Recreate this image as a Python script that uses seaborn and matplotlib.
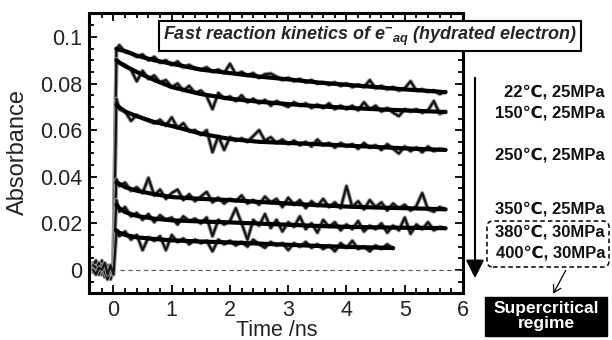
import matplotlib
matplotlib.use('Agg')
import matplotlib.pyplot as plt
import matplotlib.transforms as mtransforms
from matplotlib.patches import FancyBboxPatch, FancyArrowPatch, Rectangle
from matplotlib.ticker import MultipleLocator
import seaborn as sns

# time axes (ns)
t_pre = [-0.35, -0.30, -0.25, -0.20, -0.15, -0.10, -0.05, 0.00]
t_post = [0.05, 0.1, 0.2, 0.3, 0.4, 0.5, 0.6, 0.7, 0.8, 0.9,
          1.0, 1.1, 1.2, 1.3, 1.4, 1.5, 1.6, 1.7, 1.8, 1.9,
          2.0, 2.1, 2.2, 2.3, 2.4, 2.5, 2.6, 2.7, 2.8, 2.9,
          3.0, 3.1, 3.2, 3.3, 3.4, 3.5, 3.6, 3.7, 3.8, 3.9,
          4.0, 4.1, 4.2, 4.3, 4.4, 4.5, 4.6, 4.7, 4.8, 4.9,
          5.0, 5.1, 5.2, 5.3, 5.4, 5.5, 5.6, 5.7]
t_fit = [0.05, 0.1, 0.2, 0.4, 0.7, 1.0, 1.5, 2.0, 2.5, 3.0, 3.5, 4.0, 4.5, 5.0, 5.5, 5.7]
t_fit_400 = [0.05, 0.1, 0.2, 0.4, 0.7, 1.0, 1.5, 2.0, 2.5, 3.0, 3.5, 4.0, 4.5, 4.8]

# pre-trigger baselines
pre_22 = [0.003, 0.002, -0.001, 0.004, 0.000, -0.003, 0.001, 0.002]
pre_150 = [0.001, -0.001, 0.003, -0.002, 0.003, 0.000, -0.004, 0.001]
pre_250 = [0.002, 0.004, 0.000, -0.002, 0.002, -0.004, 0.002, 0.000]
pre_350 = [-0.001, 0.000, 0.003, 0.001, -0.003, 0.002, -0.002, 0.003]
pre_380 = [0.002, 0.001, -0.002, 0.002, -0.001, -0.004, 0.000, 0.002]
pre_400 = [0.000, -0.002, 0.001, 0.000, 0.003, -0.002, 0.002, -0.002]

# measured absorbance traces
abs_22 = [0.0945, 0.0965, 0.0935, 0.0930, 0.0915, 0.0925, 0.0900, 0.0915, 0.0890, 0.0900,
          0.0880, 0.0895, 0.0870, 0.0880, 0.0865, 0.0860, 0.0870, 0.0850, 0.0860, 0.0845,
          0.0885, 0.0840, 0.0850, 0.0835, 0.0845, 0.0825, 0.0840, 0.0843, 0.0830, 0.0815,
          0.0825, 0.0810, 0.0820, 0.0805, 0.0815, 0.0800, 0.0805, 0.0795, 0.0805, 0.0790,
          0.0800, 0.0785, 0.0795, 0.0785, 0.0815, 0.0780, 0.0790, 0.0775, 0.0785, 0.0770,
          0.0780, 0.0810, 0.0770, 0.0775, 0.0765, 0.0770, 0.0755, 0.0765]
abs_150 = [0.0905, 0.0890, 0.0880, 0.0860, 0.0810, 0.0855, 0.0820, 0.0835, 0.0805, 0.0815,
           0.0785, 0.0800, 0.0770, 0.0790, 0.0760, 0.0770, 0.0745, 0.0690, 0.0760, 0.0735,
           0.0745, 0.0725, 0.0750, 0.0720, 0.0735, 0.0715, 0.0730, 0.0705, 0.0725, 0.0710,
           0.0700, 0.0720, 0.0705, 0.0715, 0.0695, 0.0710, 0.0695, 0.0715, 0.0690, 0.0705,
           0.0690, 0.0705, 0.0685, 0.0720, 0.0690, 0.0705, 0.0680, 0.0695, 0.0675, 0.0660,
           0.0690, 0.0680, 0.0690, 0.0675, 0.0685, 0.0725, 0.0670, 0.0680]
abs_250 = [0.0735, 0.0690, 0.0680, 0.0640, 0.0665, 0.0650, 0.0640, 0.0630, 0.0645, 0.0620,
           0.0655, 0.0610, 0.0630, 0.0595, 0.0600, 0.0580, 0.0600, 0.0505, 0.0575, 0.0515,
           0.0570, 0.0555, 0.0565, 0.0550, 0.0575, 0.0600, 0.0555, 0.0570, 0.0545, 0.0560,
           0.0540, 0.0555, 0.0535, 0.0550, 0.0530, 0.0560, 0.0535, 0.0545, 0.0525, 0.0545,
           0.0530, 0.0540, 0.0520, 0.0545, 0.0525, 0.0535, 0.0515, 0.0540, 0.0520, 0.0500,
           0.0530, 0.0510, 0.0525, 0.0505, 0.0530, 0.0510, 0.0520, 0.0515]
abs_350 = [0.0390, 0.0360, 0.0375, 0.0340, 0.0355, 0.0330, 0.0395, 0.0320, 0.0345, 0.0305,
           0.0330, 0.0345, 0.0300, 0.0325, 0.0295, 0.0315, 0.0335, 0.0290, 0.0310, 0.0285,
           0.0305, 0.0295, 0.0320, 0.0285, 0.0300, 0.0280, 0.0315, 0.0290, 0.0305, 0.0270,
           0.0310, 0.0280, 0.0300, 0.0265, 0.0295, 0.0275, 0.0305, 0.0270, 0.0290, 0.0265,
           0.0360, 0.0270, 0.0295, 0.0260, 0.0300, 0.0270, 0.0290, 0.0255, 0.0285, 0.0265,
           0.0280, 0.0255, 0.0275, 0.0330, 0.0260, 0.0250, 0.0270, 0.0260]
abs_380 = [0.0300, 0.0250, 0.0270, 0.0230, 0.0245, 0.0215, 0.0240, 0.0205, 0.0235, 0.0215,
           0.0225, 0.0195, 0.0230, 0.0210, 0.0220, 0.0200, 0.0225, 0.0145, 0.0215, 0.0195,
           0.0210, 0.0265, 0.0200, 0.0130, 0.0215, 0.0190, 0.0240, 0.0180, 0.0215, 0.0165,
           0.0205, 0.0185, 0.0230, 0.0175, 0.0200, 0.0160, 0.0215, 0.0185, 0.0205, 0.0170,
           0.0195, 0.0175, 0.0210, 0.0165, 0.0190, 0.0175, 0.0200, 0.0160, 0.0190, 0.0170,
           0.0225, 0.0155, 0.0195, 0.0175, 0.0205, 0.0170, 0.0185, 0.0178]
abs_400 = [0.0160, 0.0145, 0.0165, 0.0130, 0.0150, 0.0085, 0.0140, 0.0125, 0.0145, 0.0085,
           0.0150, 0.0120, 0.0135, 0.0110, 0.0130, 0.0115, 0.0125, 0.0080, 0.0130, 0.0110,
           0.0125, 0.0105, 0.0120, 0.0100, 0.0130, 0.0110, 0.0095, 0.0120, 0.0105, 0.0115,
           0.0085, 0.0115, 0.0100, 0.0120, 0.0095, 0.0110, 0.0090, 0.0105, 0.0080, 0.0115,
           0.0095, 0.0125, 0.0090, 0.0100, 0.0080, 0.0105, 0.0090, 0.0110, 0.0092]

# fitted kinetics
fit_22 = [0.095, 0.0945, 0.094, 0.092, 0.090, 0.0885, 0.086, 0.0845, 0.083, 0.0818,
          0.0805, 0.0795, 0.0785, 0.0775, 0.0767, 0.0763]
fit_150 = [0.090, 0.089, 0.0875, 0.085, 0.0815, 0.0785, 0.0755, 0.0735, 0.0722, 0.0712,
           0.0703, 0.0696, 0.069, 0.0685, 0.068, 0.0678]
fit_250 = [0.071, 0.0698, 0.068, 0.066, 0.0635, 0.0618, 0.0585, 0.0562, 0.055, 0.0545,
           0.054, 0.0534, 0.0528, 0.0522, 0.0517, 0.0515]
fit_350 = [0.0375, 0.037, 0.0355, 0.034, 0.0325, 0.0313, 0.0305, 0.030, 0.0292, 0.0285,
           0.0278, 0.0272, 0.0268, 0.0265, 0.0262, 0.026]
fit_380 = [0.028, 0.0265, 0.0248, 0.0232, 0.022, 0.0213, 0.0208, 0.0204, 0.0199, 0.0194,
           0.0189, 0.0185, 0.0183, 0.0181, 0.018, 0.0179]
fit_400 = [0.017, 0.016, 0.015, 0.014, 0.0133, 0.0127, 0.0122, 0.0118, 0.0113, 0.0108,
           0.0103, 0.0099, 0.0096, 0.0094]

labels = ['22℃, 25MPa', '150℃, 25MPa', '250℃, 25MPa',
          '350℃, 25MPa', '380℃, 30MPa', '400℃, 30MPa']

sns.set_style('ticks')
plt.rcParams['font.family'] = ['Liberation Sans', 'DejaVu Sans']
plt.rcParams['mathtext.fontset'] = 'custom'
plt.rcParams['mathtext.rm'] = 'Liberation Sans'
plt.rcParams['mathtext.it'] = 'Liberation Sans:italic'
plt.rcParams['mathtext.bf'] = 'Liberation Sans:italic:bold'

fig = plt.figure(figsize=(6.12, 3.4), dpi=100)
ax = fig.add_axes([89 / 612, 47 / 340, 374 / 612, 280 / 340])

traces = [
    (pre_22, abs_22, t_fit, fit_22),
    (pre_150, abs_150, t_fit, fit_150),
    (pre_250, abs_250, t_fit, fit_250),
    (pre_350, abs_350, t_fit, fit_350),
    (pre_380, abs_380, t_fit, fit_380),
    (pre_400, abs_400, t_fit_400, fit_400),
]
for pre, meas, tf, fit in traces:
    x = t_pre + t_post[:len(meas)]
    y = pre + meas
    # soft grey halo under the raw trace, like the scanned original
    sns.lineplot(x=x, y=y, ax=ax, color='#9a9a9a', lw=3.0, sort=False, estimator=None)
    sns.lineplot(x=x, y=y, ax=ax, color='#151515', lw=1.6, sort=False, estimator=None)
    sns.lineplot(x=tf, y=fit, ax=ax, color='k', lw=3.0, sort=False, estimator=None)

ax.axhline(0, xmin=0.54 / 6.42, xmax=1, color='#555555', lw=0.8, ls=(0, (4, 3)))

ax.set_xlim(-0.42, 6.0)
ax.set_ylim(-0.0099, 0.1103)
ax.xaxis.set_major_locator(MultipleLocator(1))
ax.xaxis.set_minor_locator(MultipleLocator(0.2))
ax.yaxis.set_minor_locator(MultipleLocator(0.005))
ax.set_yticks([0, 0.02, 0.04, 0.06, 0.08, 0.1])
ax.set_yticklabels(['0', '0.02', '0.04', '0.06', '0.08', '0.1'])
ax.tick_params(which='both', direction='in', top=True, right=True, width=1.3, colors='k')
ax.tick_params(which='major', length=6, labelsize=15.5, labelcolor='#222222')
ax.tick_params(axis='x', which='major', pad=5)
ax.tick_params(axis='y', which='major', pad=5)
ax.tick_params(which='minor', length=3.5)
for s in ax.spines.values():
    s.set_linewidth(2.2)
    s.set_color('k')
ax.set_xlabel('')
ax.set_ylabel('')

fig.text(18 / 612, 1 - 152 / 340, 'Absorbance', rotation=90, ha='center', va='center',
         fontsize=17, color='#222222')
fig.text(277 / 612, 1 - 330 / 340, 'Time /ns', ha='center', va='center',
         fontsize=15.5, color='#222222')

fig.text(370 / 612, 1 - 36 / 340,
         'Fast reaction kinetics of $\\mathbf{e^{-}{}_{aq}}$ (hydrated electron)',
         ha='center', va='center', fontsize=13, fontweight='bold', style='italic',
         bbox=dict(boxstyle='square,pad=0.2', fc='white', ec='k', lw=1.5))

label_y = [92, 113, 155, 209, 232, 253]
for lab, yy in zip(labels, label_y):
    fig.text(605 / 612, 1 - yy / 340, lab, ha='right', va='center', fontsize=12,
             fontweight='bold', color='#111111')

pix = mtransforms.IdentityTransform()
fig.add_artist(FancyArrowPatch((475, 340 - 75), (475, 340 - 281), transform=pix,
                               arrowstyle='-|>,head_length=1.1,head_width=0.55',
                               mutation_scale=10, lw=1.5, color='k'))
fig.add_artist(FancyBboxPatch((487, 340 - 267), 122, 46, transform=pix,
                              boxstyle='round,pad=0,rounding_size=6', fc='none', ec='k',
                              lw=1.1, ls=(0, (3, 2))))
fig.add_artist(FancyArrowPatch((567, 340 - 268), (552, 340 - 296), transform=pix,
                               arrowstyle='->,head_length=0.5,head_width=0.3',
                               mutation_scale=10, lw=0.9, color='k'))
fig.add_artist(Rectangle((485, 340 - 336), 122, 39, transform=pix, fc='k', ec='k'))
fig.text(546 / 612, 1 - 316 / 340, 'Supercritical\nregime', ha='center', va='center',
         fontsize=12.5, fontweight='bold', color='white', linespacing=0.95)

fig.savefig('out.png', dpi=100)
